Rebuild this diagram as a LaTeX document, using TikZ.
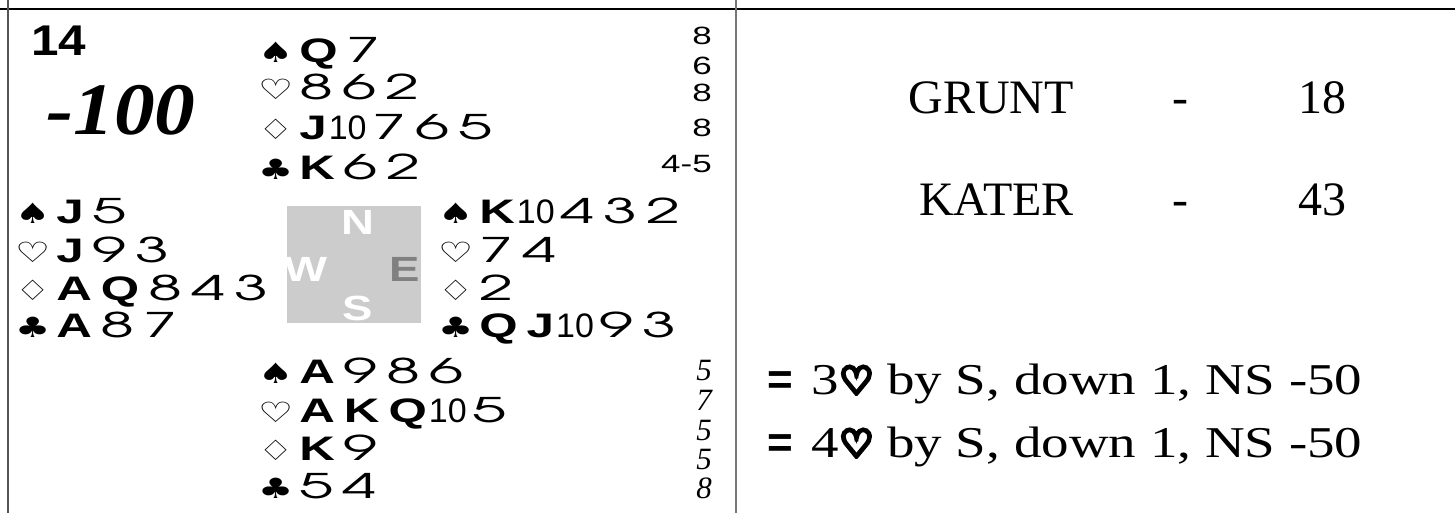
\documentclass[tikz,border=0pt]{standalone}
\usepackage{fontspec}
\setmainfont{Liberation Serif}
\newfontfamily\honf{Liberation Sans}[FakeStretch=1.45]
\newfontfamily\spotf{TeX Gyre Adventor}[FakeStretch=1.8]
\newfontfamily\tenf{Liberation Sans}
\newfontfamily\suitf{DejaVu Sans}[FakeStretch=1.4]
\newfontfamily\numf{Liberation Sans}[FakeStretch=1.4]
\newfontfamily\dirf{Liberation Sans}[FakeStretch=1.3]
\newfontfamily\bnf{Liberation Sans}[FakeStretch=1.15]
\newfontfamily\scf{Liberation Serif}[FakeStretch=1.1]
\newfontfamily\resf{Liberation Serif}[FakeStretch=1.25]
\newfontfamily\heartf{DejaVu Sans}[FakeBold=10]
\newfontfamily\eqf{Liberation Sans}
\newcommand\fs[1]{\fontsize{#1}{#1}\selectfont}
\newcommand\hon[1]{{\honf\bfseries #1}\kern 9pt}
\newcommand\honb[1]{{\honf\bfseries #1}\kern 2pt}
\newcommand\spt[1]{{\spotf #1}\kern 9pt}
\newcommand\cardten{{\tenf 10}\kern 6pt}
\newcommand\suit[1]{{\suitf\fs{28}#1}\kern 6pt}
\newcommand\suitS{\suit{♠}}
\newcommand\suitH{\suit{♡}}
\newcommand\suitD{\suit{♢}}
\newcommand\suitC{\suit{♣}}
\definecolor{boxgray}{HTML}{CCCCCC}
\definecolor{egray}{HTML}{808080}
\definecolor{lineA}{HTML}{555555}
\definecolor{lineB}{HTML}{777777}
\tikzset{
  hand/.style={inner sep=0pt, anchor=base west, font=\fs{34}},
  dirl/.style={inner sep=0pt, text=white, font=\dirf\bfseries\fs{35}},
  nnum/.style={inner sep=0pt, anchor=base east, font=\numf\fs{25}},
  snum/.style={inner sep=0pt, anchor=base east, font=\itshape\fs{31}},
  res/.style={inner sep=0pt, font=\fs{48}},
  resline/.style={inner sep=0pt, anchor=base west, font=\resf\fs{44}},
}
\begin{document}
\begin{tikzpicture}[x=1pt,y=-1pt]
\useasboundingbox (0,0) rectangle (1455,513);
% table rules
\draw[line width=2pt, black] (0,9.5) -- (1455,9.5);
\draw[line width=2pt, lineA] (7.7,0) -- (7.7,513);
\draw[line width=2pt, lineB] (735.8,0) -- (735.8,513);
% board number and score
\node[inner sep=0pt, anchor=base west, font=\bnf\bfseries\fs{43}] (bn) at (31,56) {14};
\node[inner sep=0pt, anchor=base west, font=\scf\bfseries\itshape\fs{74}] (sc) at (46,135) {-100};
% North
\node[hand] (n1) at (258,63) {\suitS\hon{Q}\spt{7}};
\node[hand] (n2) at (258,100) {\suitH\spt{8}\spt{6}\spt{2}};
\node[hand] (n3) at (258,140) {\suitD\honb{J}\cardten\spt{7}\spt{6}\spt{5}};
\node[hand] (n4) at (258,180) {\suitC\hon{K}\spt{6}\spt{2}};
% West
\node[hand] (w1) at (15,223) {\suitS\hon{J}\spt{5}};
\node[hand] (w2) at (15,262) {\suitH\hon{J}\spt{9}\spt{3}};
\node[hand] (w3) at (15,300) {\suitD\hon{A}\hon{Q}\spt{8}\spt{4}\spt{3}};
\node[hand] (w4) at (15,337) {\suitC\hon{A}\spt{8}\spt{7}};
% East
\node[hand] (e1) at (438,223) {\suitS\honb{K}\cardten\spt{4}\spt{3}\spt{2}};
\node[hand] (e2) at (438,262) {\suitH\spt{7}\spt{4}};
\node[hand] (e3) at (438,300) {\suitD\spt{2}};
\node[hand] (e4) at (438,337) {\suitC\hon{Q}\honb{J}\cardten\spt{9}\spt{3}};
% South
\node[hand] (s1) at (258,383) {\suitS\hon{A}\spt{9}\spt{8}\spt{6}};
\node[hand] (s2) at (258,422) {\suitH\hon{A}\hon{K}\honb{Q}\cardten\spt{5}};
\node[hand] (s3) at (258,460) {\suitD\hon{K}\spt{9}};
\node[hand] (s4) at (258,498) {\suitC\spt{5}\spt{4}};
% compass
\node[fill=boxgray, inner sep=0pt, minimum width=134pt, minimum height=117pt, anchor=north west] (box) at (287,206) {};
\node[dirl] (cN) at (358,222.5) {N};
\node[dirl] (cW) at (306,269) {W};
\node[dirl, text=egray] (cE) at (405,269) {E};
\node[dirl] (cS) at (358,308) {S};
% north HCP column
\node[nnum] (h1) at (712,45) {8};
\node[nnum] (h2) at (712,75) {6};
\node[nnum] (h3) at (712,102) {8};
\node[nnum] (h4) at (712,137) {8};
\node[nnum] (h5) at (712,172) {4-5};
% south column
\node[snum] (t1) at (712,380) {5};
\node[snum] (t2) at (712,410) {7};
\node[snum] (t3) at (712,440) {5};
\node[snum] (t4) at (712,469) {5};
\node[snum] (t5) at (712,498) {8};
% right panel
\node[res, anchor=base east] (g1) at (1074,114) {GRUNT};
\node[res, anchor=base] (g2) at (1180,114) {-};
\node[res, anchor=base east] (g3) at (1347,114) {18};
\node[res, anchor=base east] (k1) at (1074,215) {KATER};
\node[res, anchor=base] (k2) at (1180,215) {-};
\node[res, anchor=base east] (k3) at (1347,215) {43};
\node[resline] (r1) at (767,394) {{\eqf\bfseries =}\kern19pt 3{\heartf\fs{38}♡} by S, down 1, NS -50};
\node[resline] (r2) at (767,457) {{\eqf\bfseries =}\kern19pt 4{\heartf\fs{38}♡} by S, down 1, NS -50};
\end{tikzpicture}
\end{document}
